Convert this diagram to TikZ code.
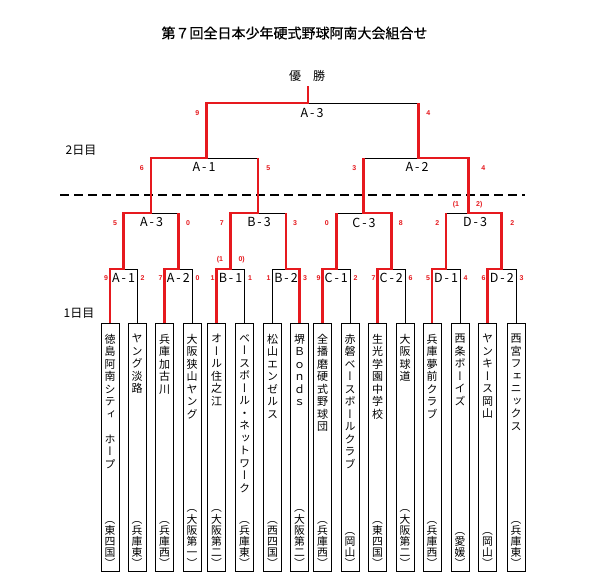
\documentclass[tikz,border=0pt]{standalone}
\usepackage{fontspec}
\setmainfont{Noto Sans CJK JP}
\newfontfamily\jpf{Noto Sans CJK JP}
\newfontfamily\jptf[FakeBold=0.6]{Noto Sans CJK JP}
\newfontfamily\vjpf[RawFeature=+vert]{Noto Sans CJK JP}
\newfontfamily\numf{Liberation Sans}
\definecolor{bred}{RGB}{230,25,30}
\newcommand\mlab[2]{#1\kern2pt-\kern2pt#2}
\tikzset{
  teambox/.style={draw=black, line width=0.8pt, minimum width=18pt, minimum height=248pt, inner sep=0pt},
  tname/.style={font=\vjpf\fontsize{11}{12.5}\selectfont, align=center, inner sep=0pt, anchor=north},
  tpref/.style={font=\vjpf\fontsize{10.8}{11.2}\selectfont, align=center, inner sep=0pt, anchor=south},
  lose/.style={draw=black, line width=0.8pt},
  win/.style={draw=bred, line width=2.8pt, line join=miter},
  score/.style={text=bred, font=\numf\bfseries\fontsize{7}{8}\selectfont, inner sep=0pt},
  mlabel/.style={font=\jpf\fontsize{12.5}{13}\selectfont, inner sep=0pt},
  daylabel/.style={font=\jpf\fontsize{12}{13}\selectfont, inner sep=0pt},
}
\newcommand\team[4]{%
  \node[teambox] (t#1) at (#2,447) {};
  \node[tname] (n#1) at (#2,334) {#3};
  \node[tpref] (p#1) at (#2,568) {#4};
}
\begin{document}
\begin{tikzpicture}[x=1pt,y=-1pt]
\useasboundingbox (0,0) rectangle (595,588);
\fill[white] (0,0) rectangle (595,588);

% title
\node[font=\jptf\fontsize{14}{16}\selectfont, inner sep=0pt] (title) at (294.5,33) {第７回全日本少年硬式野球阿南大会組合せ};
\node[font=\jpf\fontsize{12}{14}\selectfont, inner sep=0pt] (champlabel) at (307,76) {優　勝};
\node[daylabel] (day2) at (81,150) {2日目};
\node[daylabel] (day1) at (79,313) {1日目};

% teams
\team{1}{110}{徳\\島\\阿\\南\\シ\\テ\\ィ\\　\\ホ\\ー\\プ}{（\\東\\四\\国\\）}
\team{2}{137}{ヤ\\ン\\グ\\淡\\路}{（\\兵\\庫\\東\\）}
\team{3}{164.5}{兵\\庫\\加\\古\\川}{（\\兵\\庫\\西\\）}
\team{4}{192}{大\\阪\\狭\\山\\ヤ\\ン\\グ}{（\\大\\阪\\第\\一\\）}
\team{5}{216.5}{オ\\ー\\ル\\住\\之\\江}{（\\大\\阪\\第\\二\\）}
\team{6}{244.5}{ベ\\ー\\ス\\ボ\\ー\\ル\\・\\ネ\\ッ\\ト\\ワ\\ー\\ク}{（\\兵\\庫\\東\\）}
\team{7}{272.5}{松\\山\\エ\\ン\\ゼ\\ル\\ス}{（\\西\\四\\国\\）}
\team{8}{299.5}{堺\\Ｂ\\ｏ\\ｎ\\ｄ\\ｓ}{（\\大\\阪\\第\\二\\）}
\team{9}{322.5}{全\\播\\磨\\硬\\式\\野\\球\\団}{（\\兵\\庫\\西\\）}
\team{10}{350}{赤\\磐\\ベ\\ー\\ス\\ボ\\ー\\ル\\ク\\ラ\\ブ}{（\\岡\\山\\）}
\team{11}{377.5}{生\\光\\学\\園\\中\\学\\校}{（\\東\\四\\国\\）}
\team{12}{405}{大\\阪\\球\\道}{（\\大\\阪\\第\\二\\）}
\team{13}{432}{兵\\庫\\夢\\前\\ク\\ラ\\ブ}{（\\兵\\庫\\西\\）}
\team{14}{460}{西\\条\\ボ\\ー\\イ\\ズ}{（\\愛\\媛\\）}
\team{15}{487.5}{ヤ\\ン\\キ\\ー\\ス\\岡\\山}{（\\岡\\山\\）}
\team{16}{516}{西\\宮\\フ\\ェ\\ニ\\ッ\\ク\\ス}{（\\兵\\庫\\東\\）}

% junctions
\coordinate (ra1) at (123.5,269);
\coordinate (ra2) at (178.25,269);
\coordinate (rb1) at (230.5,269);
\coordinate (rb2) at (286,269);
\coordinate (rc1) at (336.25,269);
\coordinate (rc2) at (391.25,269);
\coordinate (rd1) at (446,269);
\coordinate (rd2) at (501.75,269);
\coordinate (sa3) at (151,213);
\coordinate (sb3) at (258,213);
\coordinate (sc3) at (363.5,213);
\coordinate (sd3) at (468.5,213);
\coordinate (qa1) at (206.5,158);
\coordinate (qa2) at (418.5,158);
\coordinate (fa) at (308,103);
\coordinate (champ) at (308,86);

% dashed day separator
\coordinate (dashL) at (60,195);
\coordinate (dashR) at (525,195);
\draw[black, line width=2.6pt, dash pattern=on 9pt off 5pt] (dashL) -- (dashR);

% losing lines
\draw[lose] (t2.north) |- (ra1);
\draw[lose] (t4.north) |- (ra2);
\draw[lose] (t6.north) |- (rb1);
\draw[lose] (t7.north) |- (rb2);
\draw[lose] (t10.north) |- (rc1);
\draw[lose] (t12.north) |- (rc2);
\draw[lose] (t14.north) |- (rd1);
\draw[lose] (t16.north) |- (rd2);
\draw[lose] (ra2 |- sa3) -- (sa3);
\draw[lose] (rb2 |- sb3) -- (sb3);
\draw[lose] (rc1 |- sc3) -- (sc3);
\draw[lose] (rd1 |- sd3) -- (sd3);
\draw[lose] (sb3 |- qa1) -- (qa1);
\draw[lose] (sc3 |- qa2) -- (qa2);
\draw[lose] (qa2 |- fa) -- (fa);

% winning lines
\draw[win] (t1.north) |- (ra1) |- (sa3) |- (qa1) |- (fa) -- (champ);
\draw[win] (t3.north) |- (ra2) -- (ra2 |- sa3);
\draw[win] (t5.north) |- (rb1) |- (sb3) -- (sb3 |- qa1);
\draw[win] (t8.north) |- (rb2) -- (rb2 |- sb3);
\draw[win] (t9.north) |- (rc1) -- (rc1 |- sc3);
\draw[win] (t11.north) |- (rc2) |- (sc3) -- (sc3 |- qa2);
\draw[win] (t13.north) |- (rd1) -- (rd1 |- sd3);
\draw[win] (t15.north) |- (rd2) |- (sd3) |- (qa2) -- (qa2 |- fa);

% match labels
\node[mlabel] (lfa) at (312,113) {\mlab{A}{3}};
\node[mlabel] (lqa1) at (204,167) {\mlab{A}{1}};
\node[mlabel] (lqa2) at (417,167) {\mlab{A}{2}};
\node[mlabel] (lsa3) at (151.5,222.5) {\mlab{A}{3}};
\node[mlabel] (lsb3) at (259,222.5) {\mlab{B}{3}};
\node[mlabel] (lsc3) at (364,222.5) {\mlab{C}{3}};
\node[mlabel] (lsd3) at (475,222.5) {\mlab{D}{3}};
\node[mlabel] (lra1) at (123.5,278) {\mlab{A}{1}};
\node[mlabel] (lra2) at (178.25,278) {\mlab{A}{2}};
\node[mlabel] (lrb1) at (230.5,278) {\mlab{B}{1}};
\node[mlabel] (lrb2) at (286,278) {\mlab{B}{2}};
\node[mlabel] (lrc1) at (336.25,278) {\mlab{C}{1}};
\node[mlabel] (lrc2) at (391.25,278) {\mlab{C}{2}};
\node[mlabel] (lrd1) at (446,278) {\mlab{D}{1}};
\node[mlabel] (lrd2) at (501.75,278) {\mlab{D}{2}};

% scores final
\node[score] (sf1) at (197.3,113) {9};
\node[score] (sf2) at (428.3,113) {4};
% round 3
\node[score] (sq1) at (141.7,168) {6};
\node[score] (sq2) at (268.3,168) {5};
\node[score] (sq3) at (354.3,168) {3};
\node[score] (sq4) at (483.3,168) {4};
% round 2
\node[score] (ss1) at (115,223) {5};
\node[score] (ss2) at (188,223) {0};
\node[score] (ss3) at (221.7,223) {7};
\node[score] (ss4) at (295,223) {3};
\node[score] (ss5) at (326.7,223) {0};
\node[score] (ss6) at (400.7,223) {8};
\node[score] (ss7) at (437.3,223) {2};
\node[score] (ss8) at (512.3,223) {2};
% round 1
\node[score] (s1) at (106,278) {9};
\node[score] (s2) at (142.5,278) {2};
\node[score] (s3) at (160.5,278) {7};
\node[score] (s4) at (197.5,278) {0};
\node[score] (s5) at (212.5,278) {1};
\node[score] (s6) at (250,278) {1};
\node[score] (s7) at (268.5,278) {1};
\node[score] (s8) at (305,278) {3};
\node[score] (s9) at (318.5,278) {9};
\node[score] (s10) at (355.5,278) {2};
\node[score] (s11) at (373.5,278) {7};
\node[score] (s12) at (410.5,278) {6};
\node[score] (s13) at (428,278) {5};
\node[score] (s14) at (465.5,278) {4};
\node[score] (s15) at (483.5,278) {6};
\node[score] (s16) at (521.5,278) {3};
% tiebreaks
\node[score] (pk1) at (220,260) {(1};
\node[score] (pk2) at (241.7,260) {0)};
\node[score] (pk3) at (456,205) {(1};
\node[score] (pk4) at (479.3,205) {2)};
\end{tikzpicture}
\end{document}
